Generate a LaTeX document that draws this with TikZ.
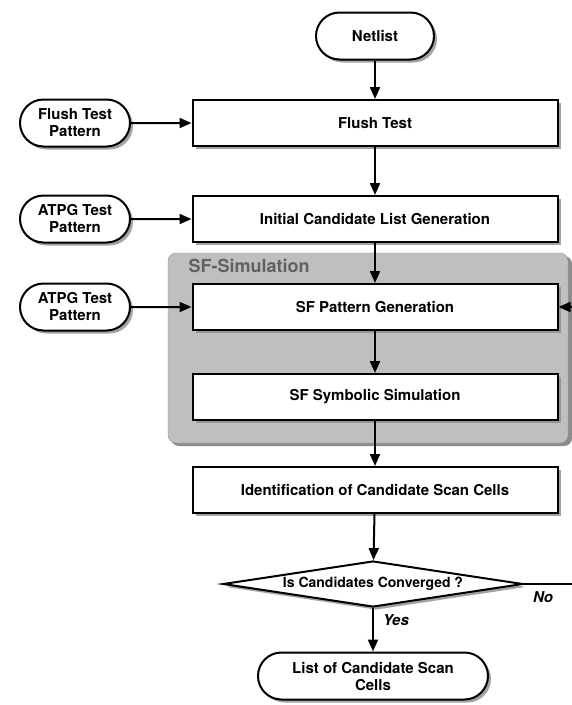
\documentclass[tikz,border=0pt]{standalone}
\usepackage{fontspec}
\setmainfont{TeX Gyre Heros}
\usepackage{tikz}
\usetikzlibrary{positioning, arrows.meta, shapes.geometric, shapes.misc, shadows, backgrounds}

\begin{document}
\begin{tikzpicture}[
  x=1pt, y=-1pt,
  every node/.style={font=\fontsize{15}{17}\selectfont\bfseries},
  shd/.style={drop shadow={shadow xshift=3pt, shadow yshift=-3pt, fill=black!45, opacity=0.8}},
  bx/.style={draw, line width=2pt, fill=white, shd, minimum width=365pt, minimum height=46pt, align=center, inner sep=3pt},
  term/.style={draw, line width=2pt, fill=white, shd, rounded rectangle, minimum height=47pt, align=center, inner sep=3pt},
  dec/.style={draw, line width=2pt, fill=white, shd, diamond, aspect=6.5, inner sep=0pt, minimum width=300pt, minimum height=46pt},
  lbl/.style={font=\fontsize{15}{17}\selectfont\bfseries\itshape},
  ar/.style={-{Triangle[length=12pt, width=10pt]}, line width=2pt},
]
\useasboundingbox (0,0) rectangle (572,705);

% SF-Simulation region
\begin{scope}[on background layer]
\fill[black!45, rounded corners=8pt] (171,256) rectangle (572,446);
\fill[black!25, draw=black!40, rounded corners=8pt] (168,253) rectangle (568,443);
\end{scope}
\node[anchor=west, text=black!62, font=\fontsize{18}{20}\selectfont\bfseries] (sftitle) at (185,266) {SF-Simulation};

% Main column
\node[term, minimum width=124pt] (netlist) at (375,36) {Netlist};
\node[bx] (flush) at (375,123) {Flush Test};
\node[bx] (init) at (375,219) {Initial Candidate List Generation};
\node[bx] (sfpg) at (375,307) {SF Pattern Generation};
\node[bx] (sfss) at (375,397) {SF Symbolic Simulation};
\node[bx] (ident) at (375,490) {Identification of Candidate Scan Cells};
\node[dec, font=\fontsize{14}{16}\selectfont\bfseries] (conv) at (373,584) {Is Candidates Converged ?};
\node[term, minimum width=236pt] (cands) at (373,676) {List of Candidate Scan\\Cells};

% Left column - pattern inputs
\node[term, minimum width=116pt] (flushpat) at (75,123) {Flush Test\\Pattern};
\node[term, minimum width=116pt] (atpga) at (75,219) {ATPG Test\\Pattern};
\node[term, minimum width=116pt] (atpgb) at (75,307) {ATPG Test\\Pattern};

% Loop ends at the right border
\coordinate (noend) at (572,584);
\coordinate (backin) at (572,307);

% Flow
\draw[ar] (netlist) -- (flush);
\draw[ar] (flush) -- (init);
\draw[ar] (init) -- (sfpg);
\draw[ar] (sfpg) -- (sfss);
\draw[ar] (sfss) -- (ident);
\draw[ar] (ident) -- (conv);
\draw[ar] (conv) -- (cands);
\draw[ar] (flushpat) -- (flush);
\draw[ar] (atpga) -- (init);
\draw[ar] (atpgb) -- (sfpg);
\draw[ar] (backin) -- (sfpg);
\draw[line width=2pt] (conv.east) -- (noend);

\node[lbl] (nolbl) at (543,597) {No};
\node[lbl] (yeslbl) at (396,620) {Yes};
\end{tikzpicture}
\end{document}
